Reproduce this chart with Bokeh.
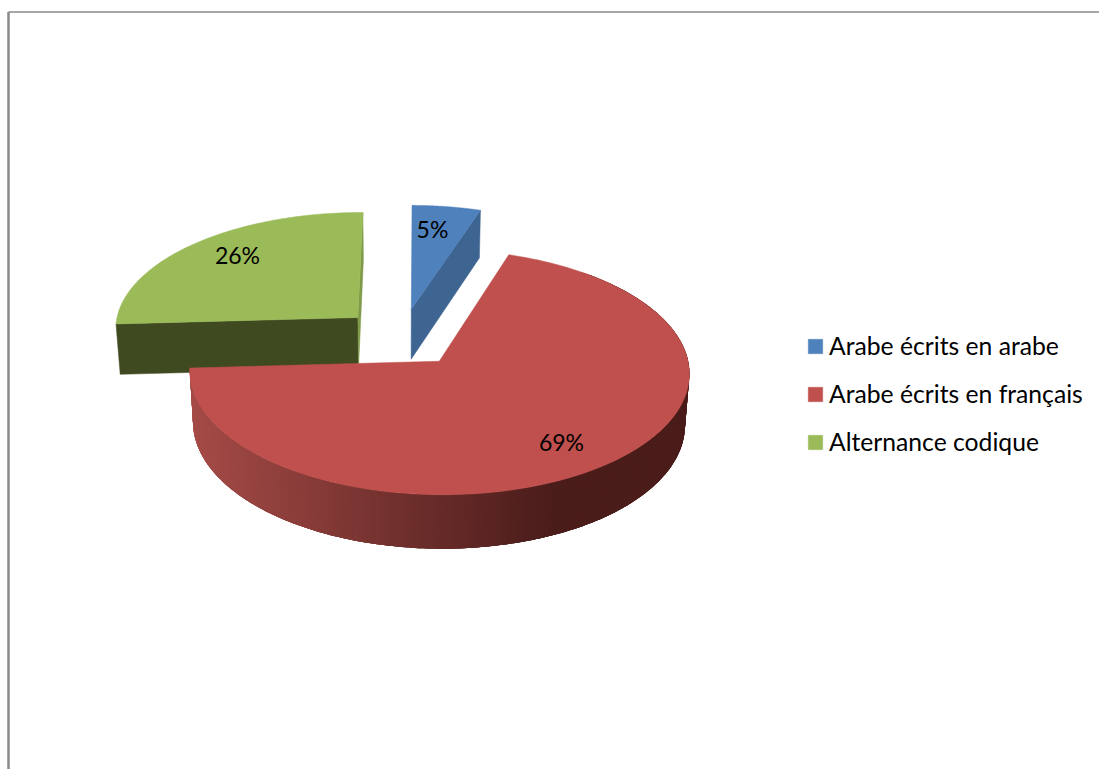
import numpy as np
from bokeh.core.properties import value
from bokeh.embed import file_html
from bokeh.models import Legend, LegendItem, Range1d
from bokeh.plotting import figure
from bokeh.resources import INLINE

# Chart content
categories = ["Arabe écrits en arabe", "Arabe écrits en français", "Alternance codique"]
shares = [5, 69, 26]
share_labels = ["5%", "69%", "26%"]

# Colours of each slice: top face and flat side wall
top_colors = ["#4F81BD", "#C0504D", "#9BBB59"]
wall_colors = ["#3E6491", "#8E3B39", "#404A21"]

# Pie projection, in page pixels
CX, CY = 401.0, 337.0
RX, RY = 244.5, 117.5
PERSPECTIVE = 0.087
DEPTH = 51.5
DEPTH_SHRINK = 0.015
EXPLODE = 0.25
FIRST_ANGLE = np.radians(0.4)
FONT = "Lato"
LABEL_XY = [(432, 228), (561, 441), (237, 254)]


def project(u, v, z=0.0):
    w = 1 + PERSPECTIVE * v + DEPTH_SHRINK * z
    return CX + RX * u / w, CY + (-RY * v + DEPTH * z) / w


def rim_point(theta, mid, z=0.0):
    u = EXPLODE * np.sin(mid) + np.sin(theta)
    v = EXPLODE * np.cos(mid) + np.cos(theta)
    return project(u, v, z)


def lerp_hex(a, b, t):
    ca = [int(a[i:i + 2], 16) for i in (1, 3, 5)]
    cb = [int(b[i:i + 2], 16) for i in (1, 3, 5)]
    return "#" + "".join(f"{round(x + (y - x) * t):02x}" for x, y in zip(ca, cb))


p = figure(width=1099, height=769, output_backend="svg", toolbar_location=None,
           x_range=Range1d(0, 1099), y_range=Range1d(769, 0),
           min_border=0, outline_line_color=None, background_fill_color="white",
           border_fill_color="white")
p.axis.visible = False
p.grid.visible = False

# Page frame: thin grey rules along the top and left edges
p.segment([8, 8], [11.5, 11.5], [1099, 8], [11.5, 769], line_color="#8a8a8a",
          line_width=[1.5, 2.5])

# Slice angles, clockwise from just past twelve o'clock
fractions = np.array(shares) / sum(shares)
edges = FIRST_ANGLE + np.concatenate([[0], np.cumsum(fractions)]) * 2 * np.pi
slices = [(edges[i], edges[i + 1], (edges[i] + edges[i + 1]) / 2) for i in range(3)]


def apex(mid, z=0.0):
    return project(EXPLODE * np.sin(mid), EXPLODE * np.cos(mid), z)


def wall(ang, mid):
    a0, a1 = apex(mid), apex(mid, 1)
    r0, r1 = rim_point(ang, mid), rim_point(ang, mid, 1)
    return [a0[0], r0[0], r1[0], a1[0]], [a0[1], r0[1], r1[1], a1[1]]


def top_face(start, end, mid):
    th = np.linspace(start, end, 160)
    x, y = rim_point(th, mid)
    a = apex(mid)
    return [a[0], *x], [a[1], *y]


legend_items = []
order = [2, 0, 1]  # far slices first, the large front slice last
for i in order:
    start, end, mid = slices[i]
    if i == 0:
        # right-hand radial wall of the small slice
        wx, wy = wall(end, mid)
        p.patch(wx, wy, fill_color=wall_colors[0], line_color=wall_colors[0], line_width=0.5)
    elif i == 2:
        # front radial wall and the nearly edge-on back wall of the left slice
        wx, wy = wall(start, mid)
        p.patch(wx, wy, fill_color=wall_colors[2], line_color=wall_colors[2], line_width=0.5)
        wx, wy = wall(end, mid)
        p.patch(wx, wy, fill_color="#7F9A49", line_color="#7F9A49", line_width=0.5)
    else:
        # curved rim of the large slice, shaded from left to right; each band
        # runs under the next one so no seams show between them
        th = np.linspace(start + 0.35, end, 241)
        x0, y0 = rim_point(th, mid)
        x1, y1 = rim_point(th, mid, 1)
        xs, ys, cols = [], [], []
        for j in range(len(th) - 1):
            k = min(j + 4, len(th) - 1)
            span = list(range(j, k + 1))
            xs.append([*x0[span], *x1[span][::-1]])
            ys.append([*y0[span], *y1[span][::-1]])
            t = np.clip((x0[j] - 192) / (555 - 192), 0, 1)
            cols.append(lerp_hex("#A54B47", "#4A1C1A", t))
        p.patches(xs, ys, fill_color=cols, line_color=None)

    fx, fy = top_face(start, end, mid)
    r = p.patch(fx, fy, fill_color=top_colors[i], line_color=top_colors[i], line_width=0.5)
    legend_items.append((i, LegendItem(label=categories[i], renderers=[r])))

# Percentage labels on the slices
p.text([q[0] for q in LABEL_XY], [q[1] for q in LABEL_XY], text=share_labels,
       text_font=value(FONT), text_font_size="23px", text_color="#000000",
       text_align="center", text_baseline="middle")

# Legend to the right of the pie
legend = Legend(items=[it for _, it in sorted(legend_items, key=lambda q: q[0])],
                location=(806, 313), orientation="vertical",
                label_text_font=FONT, label_text_font_size="24.7px", label_text_color="#000000",
                glyph_width=18, glyph_height=18, label_standoff=5, spacing=19,
                padding=0, margin=0, border_line_color=None, background_fill_alpha=0)
p.add_layout(legend, "center")

open("out.html", "w").write(file_html(p, INLINE))
